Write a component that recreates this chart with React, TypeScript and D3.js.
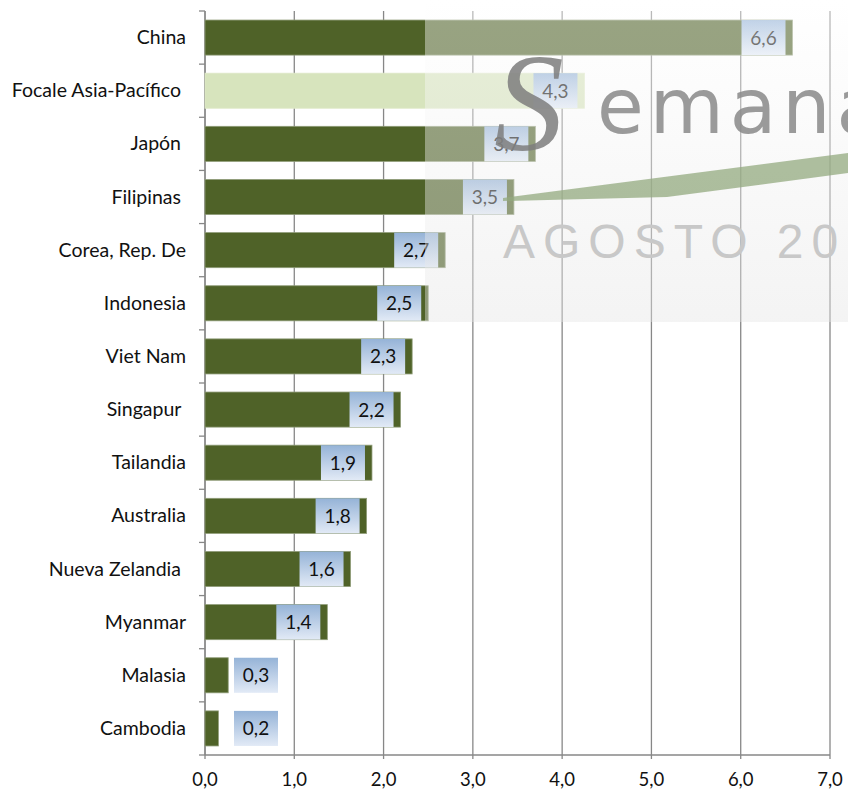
import React from "react";
import * as d3 from "d3";

const categories = [
  "China",
  "Focale Asia-Pacífico ",
  "Japón ",
  "Filipinas ",
  "Corea, Rep. De",
  "Indonesia",
  "Viet Nam",
  "Singapur ",
  "Tailandia",
  "Australia",
  "Nueva Zelandia ",
  "Myanmar",
  "Malasia",
  "Cambodia",
];
const values = [6.58, 4.25, 3.7, 3.46, 2.69, 2.5, 2.32, 2.19, 1.87, 1.81, 1.63, 1.37, 0.26, 0.15];
const valueLabels = ["6,6", "4,3", "3,7", "3,5", "2,7", "2,5", "2,3", "2,2", "1,9", "1,8", "1,6", "1,4", "0,3", "0,2"];
const highlighted = ["Focale Asia-Pacífico "];
const xTicks = [0, 1, 2, 3, 4, 5, 6, 7];

const W = 848;
const H = 793;
const FONT = "Lato, 'Open Sans', sans-serif";

export default function App() {
  const x = d3.scaleLinear().domain([0, 7]).range([205, 830]);
  const y = d3.scaleBand<string>().domain(categories).range([11, 755]).paddingInner(0.34).paddingOuter(0.17);
  const step = y.step();
  const top = 11;
  const bottom = 755;
  const fmt = (v: number) => v.toFixed(1).replace(".", ",");
  const boxW = 44;

  return (
    <svg width={W} height={H} style={{ position: "absolute", left: 0, top: 0, background: "#fff" }}>
      <defs>
        <linearGradient id="lblGrad" x1="0" y1="0" x2="0" y2="1">
          <stop offset="0" stopColor="#95b3d7" />
          <stop offset="1" stopColor="#e2eaf6" />
        </linearGradient>
        <linearGradient id="wmGrad" x1="0" y1="0" x2="0" y2="1">
          <stop offset="0" stopColor="#ffffff" />
          <stop offset="1" stopColor="#e4e4e4" />
        </linearGradient>
      </defs>
      <rect x={0} y={0} width={W} height={H} fill="#fff" />
      {/* gridlines */}
      {xTicks.map((t) => (
        <line key={"g" + t} x1={x(t)} x2={x(t)} y1={top} y2={bottom + 4} stroke="#878787" strokeWidth={1.3} />
      ))}
      {/* bottom axis */}
      <line x1={x(0)} x2={x(7)} y1={bottom} y2={bottom} stroke="#878787" strokeWidth={1.3} />
      {/* left axis */}
      <line x1={x(0)} x2={x(0)} y1={top} y2={bottom} stroke="#878787" strokeWidth={1.3} />
      {d3.range(categories.length + 1).map((i) => (
        <line key={"t" + i} x1={x(0) - 6} x2={x(0)} y1={top + i * step} y2={top + i * step} stroke="#878787" strokeWidth={1.3} />
      ))}
      {/* bars */}
      {categories.map((c, i) => (
        <rect
          key={"b" + c}
          x={x(0)}
          y={y(c)}
          width={x(values[i]) - x(0)}
          height={y.bandwidth()}
          fill={highlighted.includes(c) ? "#d7e4bd" : "#4f6228"}
          stroke={highlighted.includes(c) ? "#dfe9c8" : "#8f9c78"}
          strokeWidth={0.8}
        />
      ))}
      {/* value labels */}
      {categories.map((c, i) => {
        const end = x(values[i]);
        const bx = Math.max(end - 7 - boxW, 234);
        const yy = y(c)!;
        return (
          <g key={"l" + c}>
            <rect x={bx} y={yy} width={boxW} height={y.bandwidth()} fill="url(#lblGrad)" />
            <text
              x={bx + boxW / 2}
              y={yy + y.bandwidth() / 2 + 7}
              textAnchor="middle"
              fontFamily={FONT}
              fontSize={19}
              fill="#111"
            >
              {valueLabels[i]}
            </text>
          </g>
        );
      })}
      {/* category labels */}
      {categories.map((c) => (
        <text
          key={"c" + c}
          x={186}
          y={y(c)! + y.bandwidth() / 2 + 6.5}
          textAnchor="end"
          fontFamily={FONT}
          fontSize={19.5}
          fill="#111"
          style={{ whiteSpace: "pre" }}
        >
          {c}
        </text>
      ))}
      {/* x tick labels */}
      {xTicks.map((t) => (
        <text key={"x" + t} x={x(t)} y={786} textAnchor="middle" fontFamily={FONT} fontSize={18.5} fill="#111">
          {fmt(t)}
        </text>
      ))}
      {/* watermark */}
      <g>
        <rect x={425} y={0} width={W - 425} height={322} fill="url(#wmGrad)" opacity={0.42} />
        <path d="M503,198 L848,153 L848,173 L667,197 L503,201 Z" fill="#93a97f" opacity={0.75} />
        <text x={494} y={150} fontFamily="'Liberation Serif', serif" fontStyle="italic" fontSize={140} fill="#7e7e7e" opacity={0.85}>
          S
        </text>
        <text x={597} y={133} fontFamily="'DejaVu Sans', sans-serif" fontSize={76} fill="#8a8a8a" opacity={0.85} letterSpacing={6}>
          emana
        </text>
        <text x={503} y={258} fontFamily="'Liberation Sans', sans-serif" fontSize={48} fill="#c8c8c8" letterSpacing={8}>
          AGOSTO 20
        </text>
      </g>
    </svg>
  );
}
